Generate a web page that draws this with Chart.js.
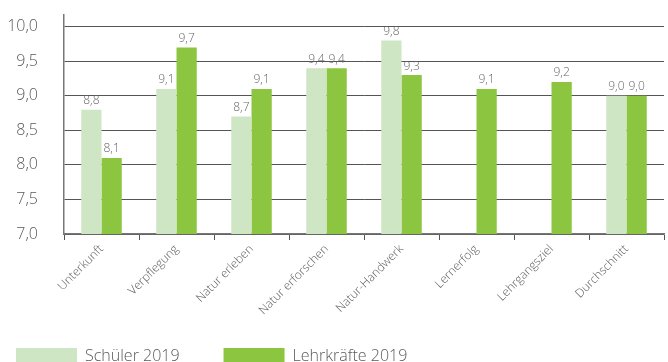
<!DOCTYPE html>
<html>
<head>
<meta charset="utf-8">
<script src="https://cdn.jsdelivr.net/npm/chart.js@4/dist/chart.umd.min.js"></script>
<style>
  html, body { margin: 0; padding: 0; background: #fff; overflow: hidden; }
  #wrap { position: relative; width: 668px; height: 374px; }
</style>
</head>
<body>
<div id="wrap"><canvas id="chart"></canvas></div>
<script>
// values
const categories = ['Unterkunft', 'Verpflegung', 'Natur erleben', 'Natur erforschen',
  'Natur-Handwerk', 'Lernerfolg', 'Lehrgangsziel', 'Durchschnitt'];
const schueler = [8.8, 9.1, 8.7, 9.4, 9.8, null, null, 9.0];
const lehrkraefte = [8.1, 9.7, 9.1, 9.4, 9.3, 9.1, 9.2, 9.0];
const seriesNames = ['Schüler 2019', 'Lehrkräfte 2019'];
const yTickValues = [7.0, 7.5, 8.0, 8.5, 9.0, 9.5, 10.0];

const FONT = "'Open Sans', 'DejaVu Sans', sans-serif";
const TEXT = '#5a5a5a';

const fmt = v => v.toFixed(1).replace('.', ',');

// value labels above each bar
const valueLabels = {
  id: 'valueLabels',
  afterDatasetsDraw(chart) {
    const ctx = chart.ctx;
    ctx.save();
    ctx.font = '300 12px ' + FONT;
    ctx.fillStyle = '#666';
    ctx.textAlign = 'center';
    ctx.textBaseline = 'bottom';
    chart.data.datasets.forEach((ds, i) => {
      chart.getDatasetMeta(i).data.forEach((bar, j) => {
        if (ds.data[j] == null) return;
        ctx.fillText(fmt(ds.data[j]), bar.x, bar.y - 3);
      });
    });
    ctx.restore();
  }
};

new Chart(document.getElementById('chart'), {
  type: 'bar',
  data: {
    labels: categories,
    datasets: [
      { label: seriesNames[0], data: schueler, backgroundColor: '#cfe6c5' },
      { label: seriesNames[1], data: lehrkraefte, backgroundColor: '#8cc53f' }
    ]
  },
  options: {
    responsive: true,
    maintainAspectRatio: false,
    animation: false,
    categoryPercentage: 0.54,
    barPercentage: 1.0,
    layout: { padding: { left: 4, right: 4, top: 15, bottom: 0 } },
    scales: {
      x: {
        grid: { display: true, drawOnChartArea: false, offset: true, tickLength: 6, color: '#555', lineWidth: 1 },
        border: { color: '#777', width: 1.5 },
        ticks: {
          color: TEXT, font: { family: FONT, size: 12, weight: 300 },
          maxRotation: 45, minRotation: 45, padding: 2, autoSkip: false
        },
        afterFit: scale => { scale.height = 102; }
      },
      y: {
        min: 7,
        max: 10.17,
        afterBuildTicks: scale => { scale.ticks = yTickValues.map(v => ({ value: v })); },
        afterFit: scale => { scale.width = 60; },
        grid: { drawTicks: true, tickLength: 24, tickColor: 'rgba(0,0,0,0)', color: '#555', lineWidth: 1 },
        border: { color: '#777', width: 1.5 },
        ticks: {
          color: TEXT, font: { family: FONT, size: 16, weight: 300 }, padding: 2,
          callback: v => fmt(v)
        }
      }
    },
    plugins: {
      legend: {
        position: 'bottom',
        align: 'start',
        labels: {
          boxWidth: 61, boxHeight: 16, padding: 12,
          color: TEXT, font: { family: FONT, size: 16, weight: 300 },
          generateLabels: chart => Chart.defaults.plugins.legend.labels.generateLabels(chart)
            .map(l => Object.assign(l, { text: l.text + '\u2003\u2003' }))
        }
      },
      tooltip: { enabled: false }
    }
  },
  plugins: [valueLabels]
});
</script>
</body>
</html>
